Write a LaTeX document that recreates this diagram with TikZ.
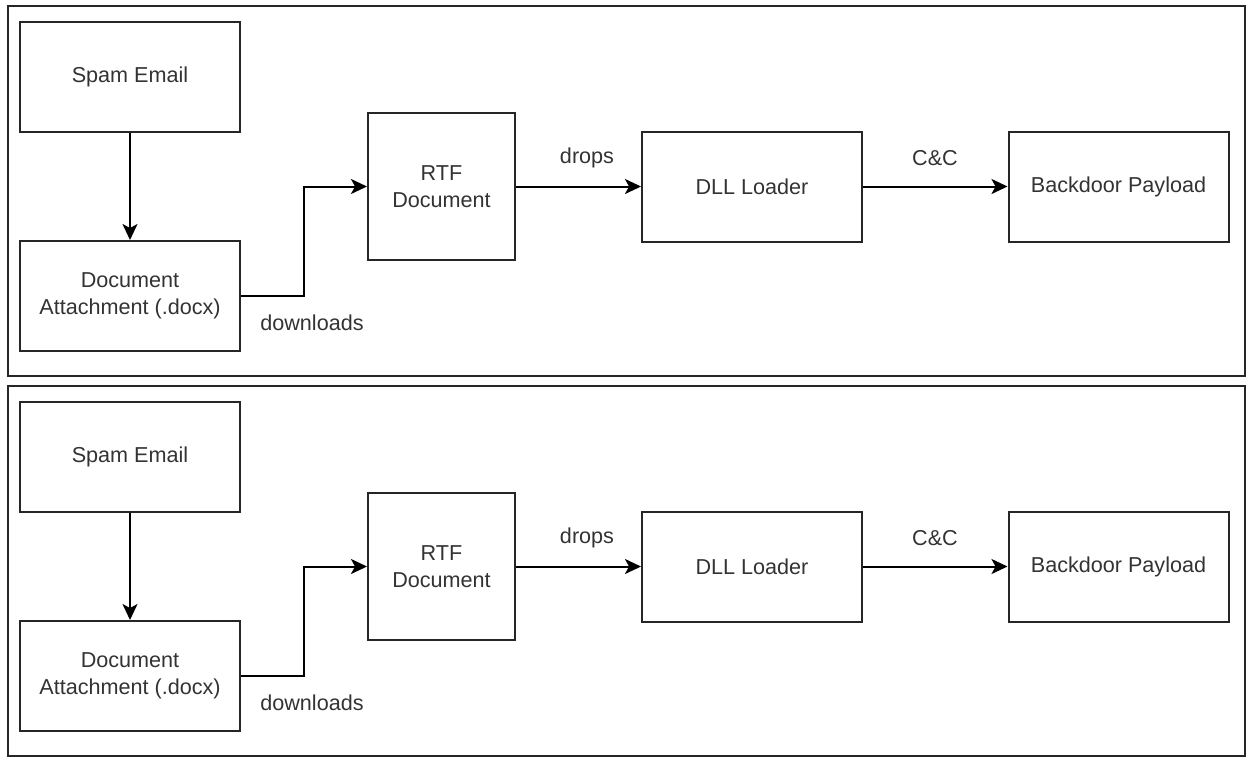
\documentclass[tikz,border=0pt]{standalone}
\usepackage{fontspec}
\setmainfont{Liberation Sans}
\usetikzlibrary{arrows.meta}
\tikzset{
  panel/.style={draw=black!85, line width=1.3pt},
  box/.style={draw=black!85, line width=1pt, inner sep=0pt, align=center,
    text=black!80, minimum width=110pt, minimum height=55pt},
  flow/.style={-{Stealth[length=8pt,width=7.5pt,inset=2pt]}, line width=1pt},
  lbl/.style={text=black!80}
}
\begin{document}
\begin{tikzpicture}[x=0.5pt,y=-0.5pt,font=\fontsize{10.8}{13.5}\selectfont]
  \useasboundingbox (0,0) rectangle (1247,756);

  % top panel
  \draw[panel] (8,6) rectangle (1245,376);
  \node[box] (spamA) at (130,77) {Spam Email};
  \node[box] (attA) at (130,296) {Document\\Attachment (.docx)};
  \node[box, minimum width=73.5pt, minimum height=73.5pt] (rtfA) at (441.5,186.5) {RTF\\Document};
  \node[box] (dllA) at (752,186.5) {DLL Loader};
  \node[box] (bdA) at (1118.5,186.5) {Backdoor Payload};

  \draw[flow] (spamA) -- (attA);
  \draw[flow] (attA.east) -- ++(63,0) |- (rtfA.west);
  \draw[flow] (rtfA) -- (dllA);
  \draw[flow] (dllA) -- (bdA);

  % Labels
  \node[lbl] at (312,323) {downloads};
  \node[lbl] at (587,158) {drops};
  \node[lbl] at (935,158) {C\&C};

  % bottom panel
  \draw[panel] (8,386) rectangle (1245,756);
  \node[box] (spamB) at (130,457) {Spam Email};
  \node[box] (attB) at (130,676) {Document\\Attachment (.docx)};
  \node[box, minimum width=73.5pt, minimum height=73.5pt] (rtfB) at (441.5,566.5) {RTF\\Document};
  \node[box] (dllB) at (752,566.5) {DLL Loader};
  \node[box] (bdB) at (1118.5,566.5) {Backdoor Payload};

  \draw[flow] (spamB) -- (attB);
  \draw[flow] (attB.east) -- ++(63,0) |- (rtfB.west);
  \draw[flow] (rtfB) -- (dllB);
  \draw[flow] (dllB) -- (bdB);

  % Labels
  \node[lbl] at (312,703) {downloads};
  \node[lbl] at (587,538) {drops};
  \node[lbl] at (935,538) {C\&C};
\end{tikzpicture}
\end{document}
